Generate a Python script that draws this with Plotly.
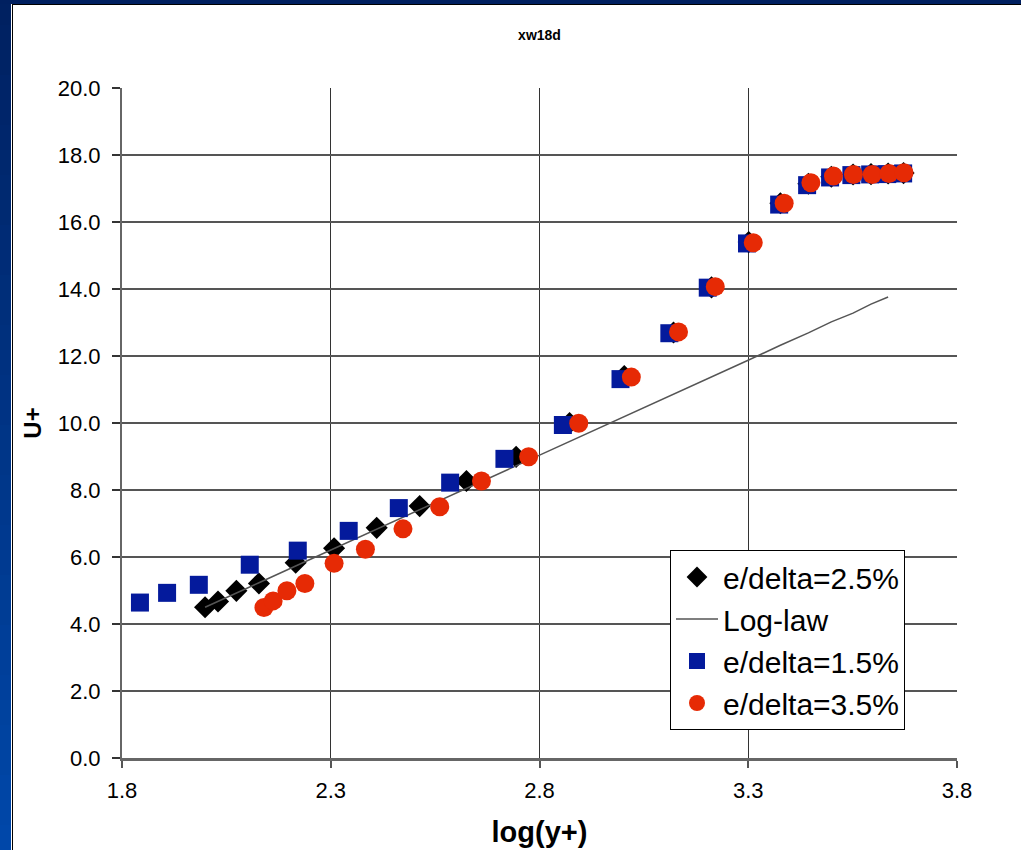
import plotly.graph_objects as go

# --- data -----------------------------------------------------------------
# e/delta = 2.5 %
logy_25 = [1.999, 2.030, 2.074, 2.128, 2.216, 2.308, 2.410, 2.513, 2.625, 2.744, 2.872,
           3.003, 3.121, 3.212, 3.301, 3.377, 3.444, 3.499, 3.551, 3.594, 3.635, 3.672]
uplus_25 = [4.50, 4.67, 4.99, 5.21, 5.83, 6.26, 6.87, 7.52, 8.27, 8.99, 10.00,
            11.40, 12.70, 14.05, 15.40, 16.56, 17.14, 17.35, 17.42, 17.43, 17.45, 17.46]

# log-law reference line
logy_law = [1.999, 2.030, 2.074, 2.128, 2.216, 2.308, 2.410, 2.513, 2.625, 2.744, 2.872,
            3.003, 3.121, 3.212, 3.301, 3.377, 3.444, 3.499, 3.551, 3.594, 3.635]
uplus_law = [4.50, 4.67, 4.92, 5.23, 5.73, 6.25, 6.83, 7.41, 8.05, 8.72, 9.45,
             10.19, 10.86, 11.38, 11.88, 12.32, 12.69, 13.02, 13.28, 13.55, 13.76]

# e/delta = 1.5 %
logy_15 = [1.843, 1.908, 1.984, 2.106, 2.221, 2.343, 2.463, 2.586, 2.716, 2.856, 2.994,
           3.111, 3.203, 3.297, 3.374, 3.441, 3.496, 3.547, 3.592, 3.633, 3.671]
uplus_15 = [4.64, 4.93, 5.17, 5.77, 6.19, 6.78, 7.46, 8.22, 8.93, 9.94, 11.31,
            12.68, 14.04, 15.36, 16.52, 17.10, 17.33, 17.40, 17.42, 17.43, 17.45]

# e/delta = 3.5 %
logy_35 = [2.140, 2.162, 2.195, 2.238, 2.308, 2.383, 2.473, 2.561, 2.661, 2.774, 2.894,
           3.020, 3.133, 3.221, 3.312, 3.386, 3.450, 3.504, 3.552, 3.597, 3.637, 3.673]
uplus_35 = [4.49, 4.69, 4.99, 5.21, 5.81, 6.23, 6.84, 7.50, 8.27, 8.99, 9.99,
            11.37, 12.72, 14.07, 15.38, 16.56, 17.17, 17.37, 17.42, 17.42, 17.45, 17.47]

x_ticks = [1.8, 2.3, 2.8, 3.3, 3.8]
y_ticks = [0, 2, 4, 6, 8, 10, 12, 14, 16, 18, 20]

FONT = "Arial, Liberation Sans, sans-serif"
W, H = 1021, 850
ML, MR, MT, MB = 122, 64, 88, 92
PW, PH = W - ML - MR, H - MT - MB

fig = go.Figure()
fig.add_trace(go.Scatter(x=logy_25, y=uplus_25, mode="markers", name="e/delta=2.5%",
                         legendgroup="a",
                         marker=dict(symbol="diamond", size=17, color="black")))
fig.add_trace(go.Scatter(x=logy_law, y=uplus_law, mode="lines", name="Log-law",
                         legendgroup="b",
                         line=dict(color="#555555", width=1.5)))
fig.add_trace(go.Scatter(x=logy_15, y=uplus_15, mode="markers", name="e/delta=1.5%",
                         legendgroup="c",
                         marker=dict(symbol="square", size=18, color="#041A9C")))
fig.add_trace(go.Scatter(x=logy_35, y=uplus_35, mode="markers", name="e/delta=3.5%",
                         legendgroup="d",
                         marker=dict(symbol="circle", size=19, color="#E62A05")))


def px_x(p):
    return (p - ML) / PW


def px_y(p):
    return (H - MB - p) / PH


# window frame: blue gradient strip on the left, navy band on top
shapes = []
top_col = (0x00, 0x20, 0x60)
bot_col = (0x00, 0x48, 0xAA)
n = 34
step = H / n
for i in range(n):
    t = (i + 0.5) / n
    c = tuple(int(round(a + (b - a) * t)) for a, b in zip(top_col, bot_col))
    shapes.append(dict(type="rect", xref="paper", yref="paper",
                       x0=px_x(-1), x1=px_x(11),
                       y0=px_y(step * (i + 1) + 1), y1=px_y(step * i),
                       fillcolor="rgb(%d,%d,%d)" % c, line=dict(width=0), layer="above"))
shapes.append(dict(type="rect", xref="paper", yref="paper",
                   x0=px_x(-1), x1=px_x(W + 1), y0=px_y(4), y1=px_y(-1),
                   fillcolor="#002060", line=dict(width=0), layer="above"))
shapes.append(dict(type="line", xref="paper", yref="paper",
                   x0=px_x(12), x1=px_x(W), y0=px_y(4.5), y1=px_y(4.5),
                   line=dict(color="black", width=1), layer="above"))
shapes.append(dict(type="line", xref="paper", yref="paper",
                   x0=px_x(12.5), x1=px_x(12.5), y0=px_y(H), y1=px_y(4),
                   line=dict(color="black", width=1), layer="above"))

fig.update_layout(
    width=W, height=H,
    margin=dict(l=ML, r=MR, t=MT, b=MB, pad=0, autoexpand=False),
    paper_bgcolor="white", plot_bgcolor="white",
    font=dict(family=FONT, color="black"),
    title=dict(text="xw18d", x=0.5, xref="paper", y=1 - 35 / H, yanchor="middle",
               font=dict(size=14, weight="bold", family=FONT)),
    showlegend=True,
    legend=dict(x=px_x(670), y=px_y(550), xanchor="left", yanchor="top",
                bgcolor="white", bordercolor="black", borderwidth=1,
                font=dict(size=30, family=FONT), itemwidth=42,
                traceorder="grouped", tracegroupgap=0),
    shapes=shapes,
)

fig.update_xaxes(range=[1.8, 3.8], tickvals=x_ticks, tickformat=".1f",
                 automargin=False,
                 showgrid=True, gridcolor="#333333", gridwidth=1,
                 zeroline=False, showline=True, linecolor="#666666", linewidth=3,
                 ticks="outside", ticklen=7, tickcolor="#555555", tickwidth=1.5,
                 ticklabelstandoff=4,
                 tickfont=dict(size=22, family=FONT),
                 title=dict(text="log(y+)", standoff=20,
                            font=dict(size=29, weight="bold", family=FONT)))
fig.update_yaxes(range=[0, 20], tickvals=y_ticks, tickformat=".1f",
                 automargin=False,
                 showgrid=True, gridcolor="#555555", gridwidth=1.5,
                 zeroline=False, showline=True, linecolor="#666666", linewidth=2,
                 ticks="outside", ticklen=8, tickcolor="#333333", tickwidth=1.5,
                 ticklabelstandoff=7,
                 tickfont=dict(size=22, family=FONT),
                 title=dict(text="U+", standoff=9,
                            font=dict(size=24, weight="bold", family=FONT)))

fig.write_html("out.html")
